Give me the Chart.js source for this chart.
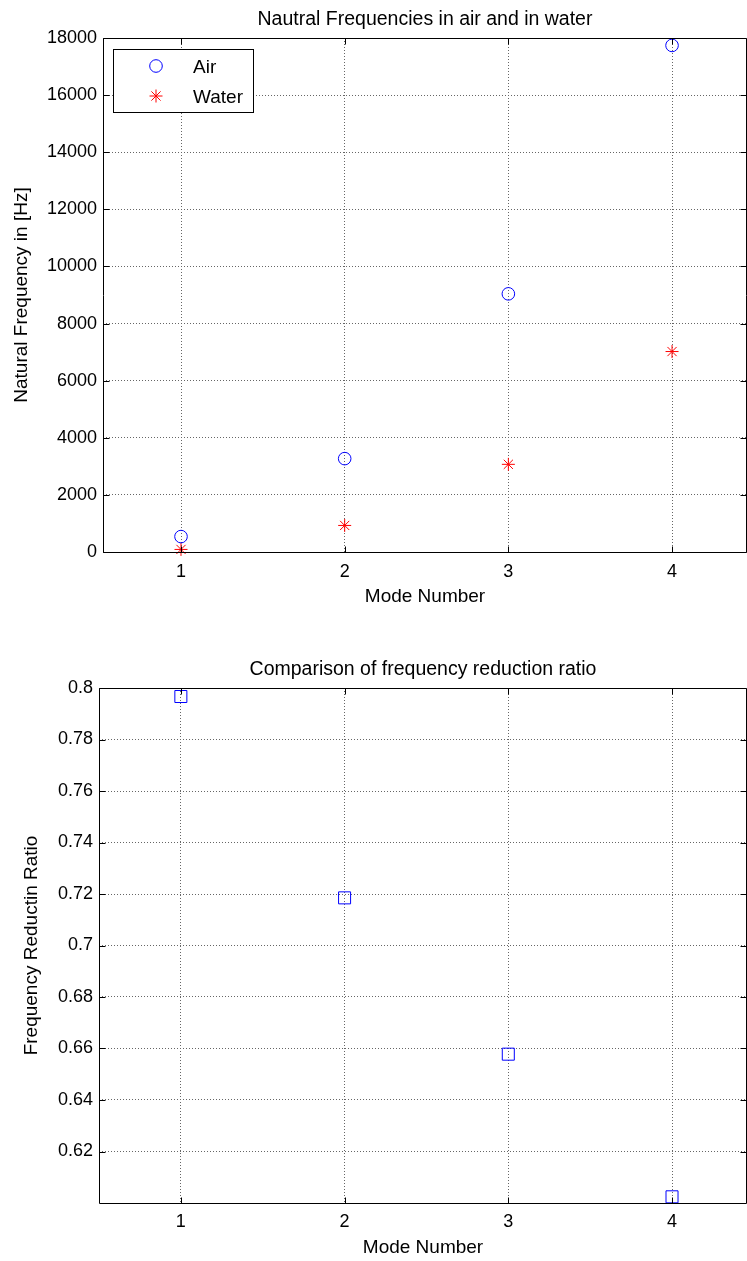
<!DOCTYPE html>
<html>
<head>
<meta charset="utf-8">
<title>Natural frequencies in air and in water</title>
<script src="https://cdn.jsdelivr.net/npm/chart.js@4.4.1/dist/chart.umd.min.js"></script>
<style>
  html, body { margin: 0; padding: 0; background: #fff; overflow: hidden; }
  canvas { display: block; }
</style>
</head>
<body>
<canvas id="freqChart" width="747" height="620"></canvas>
<canvas id="ratioChart" width="747" height="641"></canvas>
<script>
// data
const modes = [1, 2, 3, 4];
const airFreq = [540, 3270, 9040, 17740];
const waterFreq = [90, 930, 3070, 7020];
const reductionRatio = [0.7967, 0.7185, 0.6578, 0.6024];

// tick labels
const modeTicks = [1, 2, 3, 4];
const freqTicks = [0, 2000, 4000, 6000, 8000, 10000, 12000, 14000, 16000, 18000];
const ratioTicks = [0.62, 0.64, 0.66, 0.68, 0.7, 0.72, 0.74, 0.76, 0.78, 0.8];

const FONT = "'Liberation Sans', Arial, Helvetica, sans-serif";
Chart.defaults.font.family = FONT;
Chart.defaults.color = '#000';

function fixedTicks(list) {
  return function (axis) { axis.ticks = list.map(v => ({ value: v })); };
}

function points(xs, ys) {
  return xs.map((x, i) => ({ x: x, y: ys[i] }));
}

// box round the axes + small inward tick marks, like matlab
const boxPlugin = {
  id: 'matlabBox',
  afterDraw(chart) {
    const { ctx, chartArea: a, scales: { x, y } } = chart;
    const L = Math.round(a.left) + 0.5, R = Math.round(a.right) - 0.5;
    const T = Math.round(a.top) + 0.5, B = Math.round(a.bottom) + 0.5;
    ctx.save();
    ctx.strokeStyle = '#000';
    ctx.lineWidth = 1;
    ctx.beginPath();
    x.ticks.forEach(t => {
      const px = Math.round(x.getPixelForValue(t.value)) + 0.5;
      ctx.moveTo(px, B); ctx.lineTo(px, B - 6);
      ctx.moveTo(px, T); ctx.lineTo(px, T + 6);
    });
    y.ticks.forEach(t => {
      const py = Math.round(y.getPixelForValue(t.value)) + 0.5;
      ctx.moveTo(L, py); ctx.lineTo(L + 6, py);
      ctx.moveTo(R, py); ctx.lineTo(R - 6, py);
    });
    ctx.moveTo(L, T); ctx.lineTo(R, T); ctx.lineTo(R, B); ctx.lineTo(L, B); ctx.closePath();
    ctx.stroke();
    ctx.restore();
  }
};

// legend drawn as a boxed panel in the top-left corner
const boxLegend = {
  id: 'boxLegend',
  afterDraw(chart) {
    const ctx = chart.ctx;
    ctx.save();
    ctx.fillStyle = '#fff';
    ctx.fillRect(113, 49, 140, 63);
    ctx.strokeStyle = '#000';
    ctx.lineWidth = 1;
    ctx.strokeRect(113.5, 49.5, 140, 63);
    const rows = [66, 96];
    chart.data.datasets.forEach((ds, i) => {
      ctx.strokeStyle = ds.borderColor;
      ctx.fillStyle = 'rgba(0,0,0,0)';
      ctx.lineWidth = ds.borderWidth;
      Chart.helpers.drawPoint(ctx, { pointStyle: ds.pointStyle, radius: ds.pointRadius, borderWidth: ds.borderWidth, rotation: 0 }, 156, rows[i]);
      ctx.fillStyle = '#000';
      ctx.font = '19px ' + FONT;
      ctx.textBaseline = 'middle';
      ctx.textAlign = 'left';
      ctx.fillText(ds.label, 193, rows[i] + 2);
    });
    ctx.restore();
  }
};

const gridOpts = { color: '#666', drawTicks: false };
const borderOpts = { display: false, dash: [1, 2] };

function xFit(h) {
  return function (s) { s.height = h; s.paddingLeft = 0; s.paddingRight = 0; };
}
function yFit(w) {
  return function (s) { s.width = w; };
}

new Chart(document.getElementById('freqChart'), {
  type: 'scatter',
  data: {
    datasets: [{
      label: 'Air',
      data: points(modes, airFreq),
      pointStyle: 'circle',
      pointRadius: 6.3,
      borderColor: '#0000ff',
      backgroundColor: 'rgba(0,0,0,0)',
      borderWidth: 1,
      clip: false
    }, {
      label: 'Water',
      data: points(modes, waterFreq),
      pointStyle: 'star',
      pointRadius: 6.5,
      borderColor: '#ff0000',
      backgroundColor: 'rgba(0,0,0,0)',
      borderWidth: 1,
      clip: false
    }]
  },
  options: {
    responsive: false,
    animation: false,
    devicePixelRatio: 1,
    layout: { padding: 0, autoPadding: false },
    plugins: {
      legend: { display: false },
      tooltip: { enabled: false },
      title: {
        display: true,
        text: 'Nautral Frequencies in air and in water',
        fullSize: false,
        color: '#000',
        font: { size: 19.5, weight: 'normal' },
        padding: { top: 8.3, bottom: 6.3 }
      }
    },
    scales: {
      x: {
        type: 'linear', min: 0.5234, max: 4.458,
        afterBuildTicks: fixedTicks(modeTicks),
        afterFit: xFit(68),
        grid: gridOpts, border: borderOpts,
        ticks: { padding: 9, font: { size: 18 }, maxRotation: 0, autoSkip: false, callback: v => String(v) },
        title: { display: true, text: 'Mode Number', font: { size: 19 }, padding: { top: 0, bottom: 11.6 } }
      },
      y: {
        type: 'linear', min: 0, max: 18000,
        afterBuildTicks: fixedTicks(freqTicks),
        afterFit: yFit(103),
        grid: gridOpts, border: borderOpts,
        ticks: { padding: 6, font: { size: 18 }, autoSkip: false, callback: v => String(v) },
        title: { display: true, text: 'Natural Frequency in [Hz]', font: { size: 19 }, padding: { top: 10.6, bottom: 0 } }
      }
    }
  },
  plugins: [boxPlugin, boxLegend]
});

new Chart(document.getElementById('ratioChart'), {
  type: 'scatter',
  data: {
    datasets: [{
      label: 'Ratio',
      data: points(modes, reductionRatio),
      pointStyle: 'rect',
      pointRadius: 8.5,
      borderColor: '#0000ff',
      backgroundColor: 'rgba(0,0,0,0)',
      borderWidth: 1,
      clip: false
    }]
  },
  options: {
    responsive: false,
    animation: false,
    devicePixelRatio: 1,
    layout: { padding: 0, autoPadding: false },
    plugins: {
      legend: { display: false },
      tooltip: { enabled: false },
      title: {
        display: true,
        text: 'Comparison of frequency reduction ratio',
        fullSize: false,
        color: '#000',
        font: { size: 19.5, weight: 'normal' },
        padding: { top: 38.3, bottom: 6.3 }
      }
    },
    scales: {
      x: {
        type: 'linear', min: 0.5, max: 4.458,
        afterBuildTicks: fixedTicks(modeTicks),
        afterFit: xFit(58),
        grid: gridOpts, border: borderOpts,
        ticks: { padding: 8, font: { size: 18 }, maxRotation: 0, autoSkip: false, callback: v => String(v) },
        title: { display: true, text: 'Mode Number', font: { size: 19 }, padding: { top: 0, bottom: 1.6 } }
      },
      y: {
        type: 'linear', min: 0.6, max: 0.8,
        afterBuildTicks: fixedTicks(ratioTicks),
        afterFit: yFit(99),
        grid: gridOpts, border: borderOpts,
        ticks: { padding: 6, font: { size: 18 }, autoSkip: false, callback: v => String(Math.round(v * 100) / 100) },
        title: { display: true, text: 'Frequency Reductin Ratio', font: { size: 19 }, padding: { top: 20.6, bottom: 0 } }
      }
    }
  },
  plugins: [boxPlugin]
});
</script>
</body>
</html>
